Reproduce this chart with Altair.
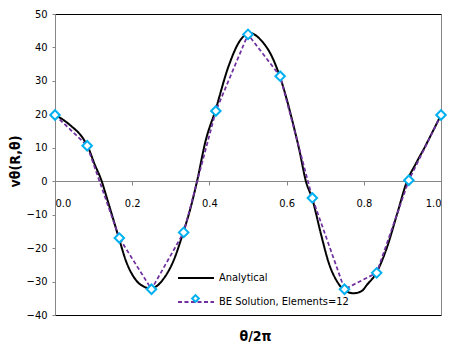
import altair as alt
import pandas as pd

FONT = "DejaVu Sans Condensed, DejaVu Sans, sans-serif"

# Analytical solution
an_x = [0.000, 0.022, 0.044, 0.069, 0.084, 0.103, 0.121, 0.133, 0.150, 0.165,
        0.185, 0.210, 0.230, 0.245, 0.260, 0.279, 0.308, 0.332, 0.350, 0.368,
        0.390, 0.415, 0.450, 0.479, 0.505, 0.535, 0.561, 0.582, 0.595, 0.615,
        0.633, 0.650, 0.666, 0.689, 0.710, 0.732, 0.750, 0.774, 0.796, 0.808,
        0.832, 0.860, 0.886, 0.912, 0.935, 0.958, 0.980, 1.000]
an_v = [19.8, 18.3, 16.3, 13.4, 10.6, 5.0, 0.0, -4.5, -11.0, -16.8,
        -24.2, -29.6, -31.5, -32.0, -31.6, -29.5, -23.5, -15.4, -8.5, 0.0,
        12.0, 21.0, 34.5, 42.0, 44.3, 42.0, 37.5, 31.5, 26.7, 18.0,
        9.3, 0.0, -5.1, -15.8, -24.7, -30.2, -32.6, -33.5, -32.7, -31.0,
        -27.5, -19.8, -9.9, 0.0, 5.3, 10.2, 15.2, 19.8]

# Boundary element solution, 12 elements
be_x = [0/12, 1/12, 2/12, 3/12, 4/12, 5/12, 6/12, 7/12, 8/12, 9/12, 10/12, 11/12, 12/12]
be_v = [19.8, 10.6, -17.0, -32.3, -15.3, 21.0, 43.9, 31.4, -5.0, -32.3, -27.4, 0.3, 19.8]

S_AN = "Analytical"
S_BE = "BE Solution, Elements=12"

df_an = pd.DataFrame({"x": an_x, "v": an_v, "series": S_AN})
df_be = pd.DataFrame({"x": be_x, "v": be_v, "series": S_BE, "m": S_BE})

xs = alt.Scale(domain=[0, 1], nice=False, zero=False)
ys = alt.Scale(domain=[-40, 50], nice=False)

def line_legend():
    return alt.Legend(
        title=None, orient="none", legendX=122, legendY=245,
        symbolType="stroke", symbolSize=1296, symbolStrokeWidth=2,
        labelFont=FONT, labelFontSize=11, labelColor="#000000",
        labelOffset=4, rowPadding=-17, padding=0,
    )

color = alt.Color(
    "series:N",
    scale=alt.Scale(domain=[S_AN, S_BE], range=["#000000", "#7030A0"]),
    legend=line_legend(),
)
dash = alt.StrokeDash(
    "series:N",
    scale=alt.Scale(domain=[S_AN, S_BE], range=[[1, 0], [4, 2.5]]),
    legend=line_legend(),
)

an_line = alt.Chart(df_an).mark_line(interpolate="monotone", strokeWidth=2).encode(
    x=alt.X("x:Q", scale=xs, axis=alt.Axis(
        orient="bottom", offset=-134, values=[0, 0.2, 0.4, 0.6, 0.8, 1.0], format=".1f",
        domainColor="#868686", tickColor="#868686", tickSize=4, labelPadding=12,
        labelFont=FONT, labelFontSize=11, labelColor="#000000", grid=False,
        title="θ/2π", titleFont=FONT, titleFontSize=14, titleFontWeight="bold",
        titleX=200, titleY=155, titleBaseline="middle", titleAlign="center",
        titleColor="#000000",
    )),
    y=alt.Y("v:Q", scale=ys, axis=alt.Axis(
        orient="left", values=list(range(-40, 51, 10)), grid=False,
        domainColor="#868686", tickColor="#868686", tickSize=3, labelPadding=5,
        labelFont=FONT, labelFontSize=11, labelColor="#000000",
        title="vθ(R,θ)", titleFont=FONT, titleFontSize=14, titleFontWeight="bold",
        titleX=-40, titleY=147, titleAngle=270, titleBaseline="middle",
        titleAlign="center", titleColor="#000000",
    )),
    color=color,
    strokeDash=dash,
)

be_line = alt.Chart(df_be).mark_line(strokeWidth=1.75).encode(
    x=alt.X("x:Q", scale=xs, axis=None),
    y=alt.Y("v:Q", scale=ys, axis=alt.Axis(
        orient="right", labels=False, ticks=False, title=None, grid=False,
        domainColor="#868686",
    )),
    color=color,
    strokeDash=dash,
)

be_pts = alt.Chart(df_be).mark_point(
    shape="diamond", size=90, fill="white", filled=False,
    fillOpacity=1, strokeWidth=2, opacity=1,
).encode(
    x=alt.X("x:Q", scale=xs, axis=None),
    y=alt.Y("v:Q", scale=ys, axis=None),
    stroke=alt.Stroke("m:N", scale=alt.Scale(domain=[S_BE], range=["#00B0F0"]),
                      legend=alt.Legend(
                          title=None, orient="none", legendX=135, legendY=279,
                          symbolType="diamond", symbolSize=45,
                          symbolFillColor="white", symbolStrokeWidth=2,
                          labelFont=FONT, labelFontSize=11, labelOpacity=0,
                          labelExpr="''", padding=0,
                      )),
)

chart = alt.layer(an_line, be_line, be_pts).resolve_axis(
    x="independent", y="independent"
).properties(
    width=386, height=301,
    autosize=alt.AutoSizeParams(type="none"),
    padding={"left": 47, "top": 6, "right": 8, "bottom": 27},
).configure_view(stroke="#000000", strokeWidth=1)

chart.save("out.html", embed_options={"renderer": "svg", "actions": False})
